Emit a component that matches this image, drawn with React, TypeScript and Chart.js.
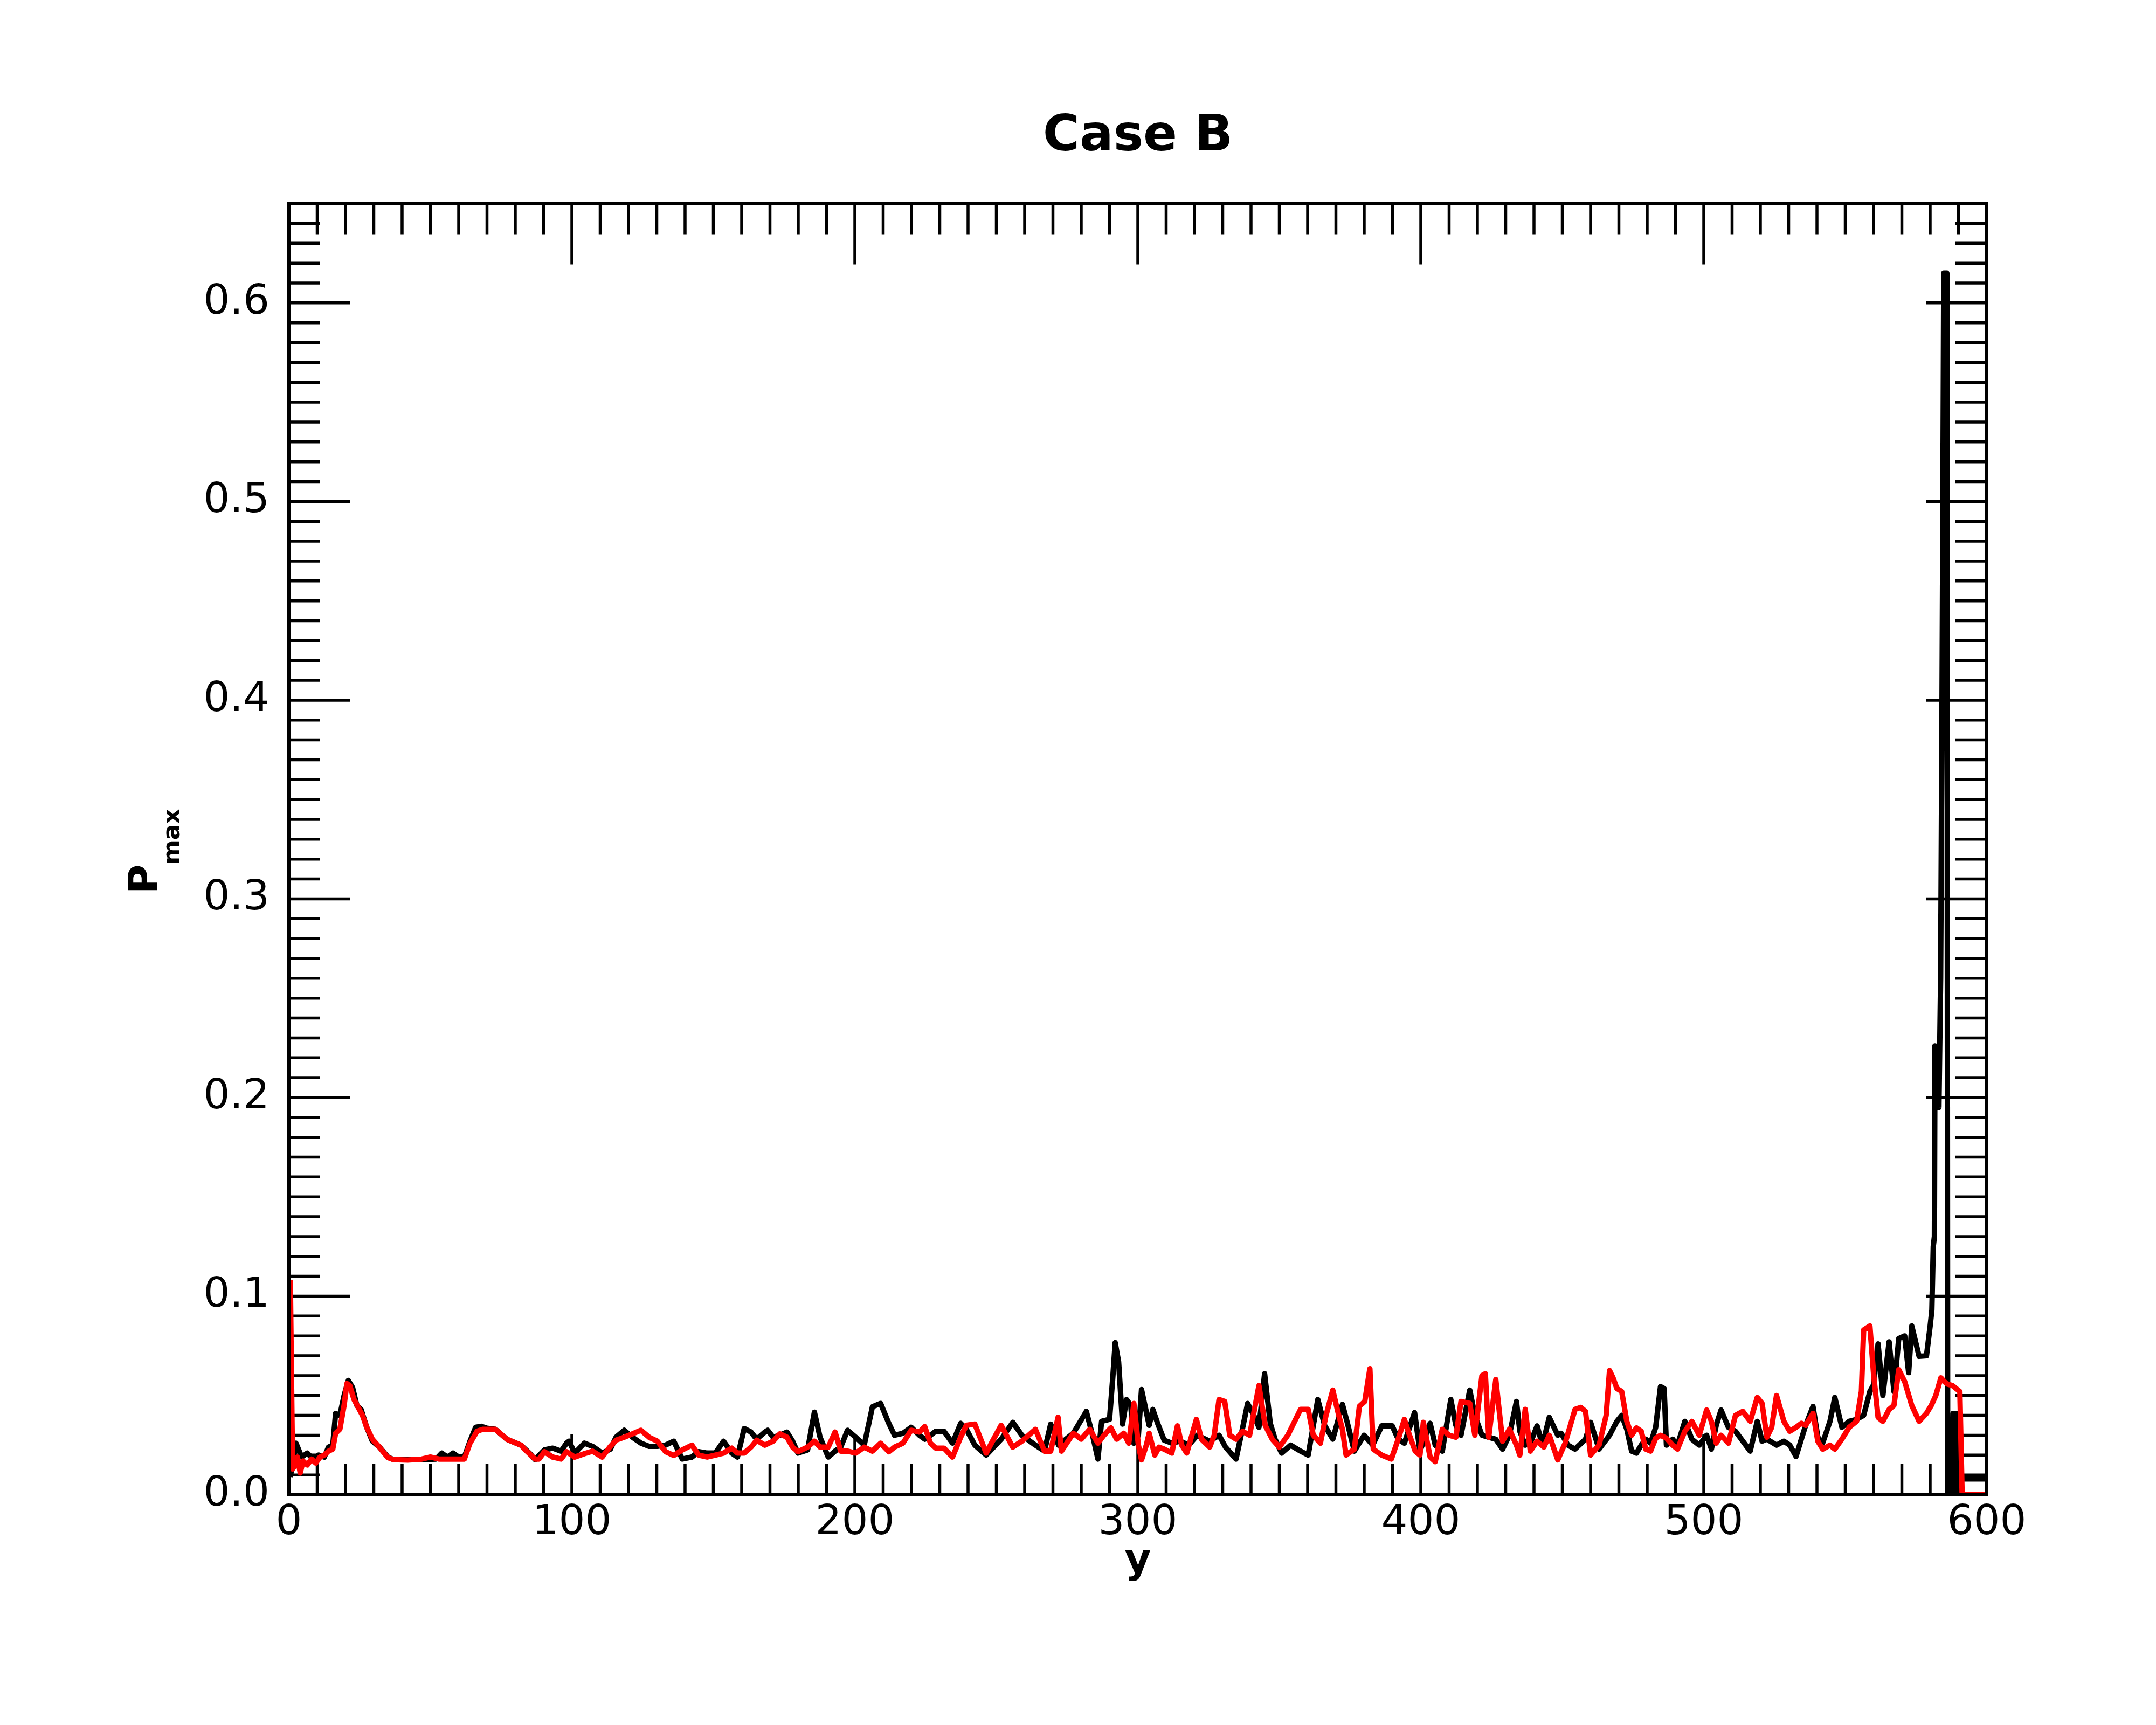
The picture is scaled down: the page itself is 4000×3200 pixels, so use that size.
import React, { useEffect, useRef } from 'react';
import { Chart, registerables } from 'chart.js';

Chart.register(...registerables);

// ---------- data ----------
const TITLE = 'Case B';
const X_LABEL = 'y';
const Y_LABEL_MAIN = 'P';
const Y_LABEL_SUB = 'max';

const X_MIN = 0;
const X_MAX = 600;
const X_MAJOR = 100;
const X_MINOR = 10;
const Y_MIN = 0;
const Y_MAX = 0.65;
const Y_MAJOR = 0.1;
const Y_MINOR = 0.01;

// black curve: [y position, Pmax]
const blackSeries: [number, number][] = [
  [0.5, 0.009], [2.5, 0.026], [4.5, 0.019], [6.5, 0.021], [8.5, 0.018], [10.5, 0.02], [12.5, 0.019],
  [14, 0.024], [15.5, 0.025], [16.5, 0.041], [18, 0.04], [19.5, 0.05], [21, 0.0576], [22.5, 0.054],
  [24, 0.045], [25.5, 0.043], [27.5, 0.034], [29.5, 0.027], [32, 0.024], [35, 0.019], [37, 0.0177],
  [42, 0.0177], [47, 0.0177], [52, 0.018], [54, 0.021], [56, 0.019], [58, 0.021], [60, 0.019],
  [62, 0.019], [64, 0.027], [66, 0.034], [68, 0.0345], [70, 0.0335], [73, 0.033], [77, 0.028],
  [82, 0.025], [85, 0.021], [87, 0.0177], [88.4, 0.0198], [90.3, 0.0226], [93.2, 0.0235], [96.2, 0.022],
  [98.1, 0.026], [99, 0.027], [101, 0.021], [104.4, 0.026], [107.3, 0.0244], [110.7, 0.021],
  [113.6, 0.023], [115.6, 0.029], [118.5, 0.0325], [121.4, 0.029], [124.4, 0.026], [127.3, 0.0244],
  [130.2, 0.0244], [133.1, 0.025], [136, 0.027], [139, 0.018], [142.4, 0.019], [144.8, 0.0217],
  [147.8, 0.021], [150.7, 0.021], [153.6, 0.027], [156.5, 0.021], [158.5, 0.019], [160.9, 0.0334],
  [163.3, 0.0316], [165.3, 0.028], [168.2, 0.0316], [169.2, 0.0325], [171.1, 0.029], [173.5, 0.03],
  [176, 0.0316], [178, 0.027], [179.9, 0.021], [183.3, 0.0226], [185.7, 0.0416], [187.7, 0.029],
  [190.6, 0.019], [193, 0.022], [195, 0.024], [197.4, 0.0325], [200.3, 0.029], [203.3, 0.025],
  [206.2, 0.0443], [209.1, 0.046], [212, 0.036], [214, 0.03], [217, 0.031], [219.9, 0.034],
  [222.8, 0.03], [224.7, 0.028], [226.7, 0.03], [228.6, 0.032], [231.5, 0.032], [234.5, 0.026],
  [237.4, 0.036], [239.4, 0.033], [242.4, 0.025], [246.4, 0.02], [251.7, 0.028], [255.8, 0.0365],
  [259, 0.03], [263.8, 0.025], [267, 0.022], [269.2, 0.0356], [272, 0.025], [277.2, 0.031],
  [281.8, 0.042], [284, 0.03], [285.9, 0.018], [287.2, 0.037], [290, 0.038], [291.2, 0.06],
  [292, 0.0766], [293.2, 0.067], [294.6, 0.0356], [296, 0.048], [297.5, 0.045], [298.6, 0.026],
  [300.2, 0.03], [301.3, 0.053], [302.5, 0.045], [304, 0.035], [305.3, 0.043], [307, 0.036],
  [309.3, 0.0275], [312, 0.026], [315, 0.027], [318, 0.025], [321, 0.03], [325.4, 0.027],
  [328.7, 0.03], [331, 0.024], [334.7, 0.018], [336.5, 0.03], [338.8, 0.046], [341, 0.04],
  [342.8, 0.034], [344.8, 0.061], [346.8, 0.036], [348.5, 0.028], [350.8, 0.021], [354, 0.025],
  [357.5, 0.022], [360.2, 0.02], [363.6, 0.048], [366, 0.035], [368.9, 0.028], [372.3, 0.0455],
  [374, 0.0365], [376.5, 0.022], [380, 0.03], [383, 0.025], [386.2, 0.0347], [389.9, 0.0347],
  [392, 0.028], [394.2, 0.026], [397.8, 0.0414], [399.7, 0.022], [403.3, 0.036], [405.1, 0.025],
  [407.6, 0.022], [410.6, 0.048], [412.4, 0.035], [414.2, 0.03], [417.3, 0.0527], [419.1, 0.04],
  [421.6, 0.03], [424, 0.029], [426.5, 0.028], [428.9, 0.023], [431.3, 0.03], [433.8, 0.047],
  [435, 0.032], [436.9, 0.025], [438.7, 0.026], [441.1, 0.0347], [443, 0.025], [445.4, 0.039],
  [448.4, 0.03], [449.6, 0.031], [452, 0.025], [454.5, 0.023], [458.2, 0.028], [460, 0.0365],
  [463, 0.023], [466.7, 0.03], [469.3, 0.037], [471, 0.04], [472.8, 0.033], [474.5, 0.022],
  [476.2, 0.021], [477.9, 0.025], [479.5, 0.028], [481.2, 0.026], [483, 0.034], [484.7, 0.0545],
  [486, 0.0535], [486.8, 0.025], [489, 0.028], [490.7, 0.025], [493.3, 0.037], [495.8, 0.028],
  [498.4, 0.025], [501, 0.03], [502.7, 0.023], [504.4, 0.035], [506.1, 0.0427], [508.7, 0.034],
  [511.2, 0.032], [513.8, 0.027], [516.4, 0.022], [518.9, 0.037], [520.6, 0.027], [522.3, 0.028],
  [525.7, 0.025], [528.3, 0.027], [530.4, 0.025], [532.6, 0.0193], [536, 0.035], [538.6, 0.0445],
  [540.3, 0.029], [542, 0.026], [544.6, 0.037], [546.3, 0.049], [548.8, 0.034], [551.4, 0.037],
  [554, 0.038], [556.5, 0.04], [558.7, 0.052], [560, 0.0554], [561.6, 0.076], [563.3, 0.05],
  [565.5, 0.077], [567.2, 0.052], [568.9, 0.0787], [571, 0.08], [572.4, 0.0615], [573.5, 0.085],
  [576.1, 0.0697], [578.7, 0.07], [580, 0.085], [580.6, 0.093], [581.1, 0.125], [581.5, 0.13],
  [581.7, 0.226], [582.3, 0.195], [582.7, 0.226], [583.1, 0.195], [583.7, 0.26], [584.2, 0.4],
  [584.5, 0.5], [584.8, 0.615], [585.9, 0.615], [586.2, 0.0], [587.8, 0.0], [588.1, 0.041],
  [589.3, 0.041], [589.6, 0.0], [590.2, 0.008], [600, 0.008],
];

// red curve: [y position, Pmax]
const redSeries: [number, number][] = [
  [0.5, 0.108], [1.3, 0.013], [2, 0.0145], [3, 0.019], [4, 0.011], [5, 0.017], [6.5, 0.015],
  [8, 0.018], [9.5, 0.016], [11, 0.019], [12.5, 0.02], [14, 0.022], [15.5, 0.023], [16.5, 0.031],
  [18, 0.033], [19.5, 0.045], [20.5, 0.056], [21.5, 0.055], [23, 0.048], [24.5, 0.044], [26, 0.04],
  [27.5, 0.034], [29.5, 0.028], [32, 0.024], [35, 0.0187], [37, 0.0177], [42, 0.0175], [47, 0.018],
  [50, 0.019], [53, 0.018], [56, 0.018], [60, 0.018], [62, 0.018], [64, 0.026], [66.5, 0.032],
  [68.5, 0.033], [71, 0.033], [73, 0.033], [77, 0.028], [82, 0.025], [84, 0.022], [87, 0.018],
  [88.4, 0.018], [90.3, 0.0217], [93.2, 0.019], [96.2, 0.018], [98.1, 0.0217], [101, 0.019],
  [104.4, 0.0207], [107.3, 0.022], [110.7, 0.019], [113.6, 0.0244], [115.6, 0.0275], [118.5, 0.029],
  [121.4, 0.0307], [124.4, 0.0325], [127.3, 0.029], [130.2, 0.027], [133.1, 0.0217], [136, 0.0198],
  [139, 0.0226], [142.4, 0.025], [144.8, 0.02], [147.8, 0.019], [150.7, 0.02], [153.6, 0.021],
  [156.5, 0.0235], [158.5, 0.021], [160.9, 0.021], [163.3, 0.024], [165.3, 0.0275], [168.2, 0.025],
  [171.1, 0.027], [173.5, 0.0307], [176, 0.029], [178, 0.024], [179.9, 0.0217], [183.3, 0.024],
  [185.7, 0.027], [187.7, 0.024], [190.6, 0.024], [193, 0.0316], [195, 0.022], [197.4, 0.022],
  [200.3, 0.021], [203.3, 0.024], [206.2, 0.022], [209.1, 0.026], [212, 0.0217], [214, 0.024],
  [217, 0.026], [219.9, 0.0325], [222.8, 0.0316], [224.7, 0.0343], [226.7, 0.026], [228.6, 0.0235],
  [231.5, 0.0235], [234.5, 0.019], [237.4, 0.029], [239.4, 0.035], [242.4, 0.0356], [246.4, 0.021],
  [249, 0.028], [251.7, 0.035], [255.8, 0.024], [259, 0.027], [263.8, 0.033], [267, 0.022],
  [269.2, 0.022], [271.8, 0.039], [273, 0.022], [277.2, 0.031], [280, 0.028], [283, 0.033],
  [285.9, 0.026], [288, 0.03], [290.5, 0.0337], [292.5, 0.028], [295, 0.031], [296.8, 0.026],
  [298.6, 0.046], [300.2, 0.025], [301.3, 0.0176], [303, 0.025], [304, 0.031], [306, 0.02],
  [307.5, 0.024], [309.3, 0.023], [312, 0.021], [314, 0.0347], [315.5, 0.025], [317.3, 0.021],
  [320.7, 0.038], [322.5, 0.028], [325.4, 0.024], [327, 0.03], [328.7, 0.048], [330.7, 0.047],
  [332.5, 0.03], [334.7, 0.028], [337, 0.032], [339.5, 0.03], [342.8, 0.055], [345, 0.035],
  [347.5, 0.028], [350, 0.024], [353, 0.03], [357.5, 0.043], [360.2, 0.043], [362, 0.03],
  [364.5, 0.026], [366.5, 0.04], [368.9, 0.0527], [371, 0.04], [372.3, 0.033], [373.6, 0.02],
  [376.5, 0.023], [378.3, 0.0446], [380.2, 0.047], [382, 0.0635], [383.2, 0.023], [386.2, 0.02],
  [389.6, 0.018], [392, 0.028], [394.2, 0.038], [396, 0.03], [398, 0.022], [399.7, 0.02],
  [400.9, 0.0365], [403.3, 0.019], [405.1, 0.0167], [407.6, 0.033], [410, 0.03], [412.4, 0.029],
  [414.2, 0.047], [417.3, 0.046], [419.1, 0.03], [421.6, 0.06], [422.8, 0.061], [424, 0.029],
  [426.5, 0.058], [428.9, 0.027], [431.3, 0.033], [433.8, 0.025], [435, 0.02], [436.9, 0.043],
  [438.7, 0.022], [441.1, 0.027], [443.5, 0.024], [445.4, 0.03], [448.4, 0.0176], [451, 0.026],
  [454.5, 0.043], [456.5, 0.044], [458.2, 0.042], [460, 0.02], [463, 0.025], [465.5, 0.04],
  [466.7, 0.0626], [467.9, 0.059], [469.3, 0.0535], [471, 0.052], [472.8, 0.037], [474.5, 0.03],
  [476.2, 0.0337], [477.9, 0.032], [479.5, 0.023], [481.2, 0.022], [483, 0.0285], [484.7, 0.03],
  [486.8, 0.0285], [489, 0.025], [490.7, 0.023], [493.3, 0.032], [495.8, 0.037], [498.4, 0.03],
  [501, 0.0427], [502.7, 0.037], [504.4, 0.026], [506.1, 0.03], [508.7, 0.026], [511.2, 0.04],
  [513.8, 0.042], [516.4, 0.037], [518.9, 0.049], [520.6, 0.046], [522.3, 0.029], [524, 0.034],
  [525.7, 0.05], [528.3, 0.037], [530.4, 0.032], [532.6, 0.034], [534.5, 0.036], [536, 0.035],
  [538.6, 0.041], [540.3, 0.027], [542, 0.023], [544.6, 0.025], [546.3, 0.023], [548.8, 0.028],
  [551.4, 0.034], [554, 0.037], [555.7, 0.052], [556.5, 0.083], [558.7, 0.085], [560, 0.061],
  [561.6, 0.039], [563.3, 0.037], [565.5, 0.043], [567.2, 0.045], [568.9, 0.063], [571, 0.057],
  [573.5, 0.045], [576.1, 0.037], [578.7, 0.041], [580.4, 0.045], [582, 0.05], [583.8, 0.0589],
  [585, 0.057], [586.2, 0.0557], [587.9, 0.055], [590.5, 0.052], [591.3, 0.0], [600, 0.0],
];

const BLACK = '#000000';
const RED = '#ff0000';

// ---------- layout constants ----------
const W = 4000;
const H = 3200;
const FONT = "'DejaVu Sans', sans-serif";

const framePlugin = {
  id: 'frameTicks',
  beforeDatasetsDraw(chart: any) {
    const { ctx, chartArea: a, scales } = chart;
    const xs = scales.x;
    const ys = scales.y;
    const majorLen = 113;
    const minorLen = 58;
    ctx.save();
    ctx.strokeStyle = BLACK;
    ctx.lineWidth = 5.5;
    ctx.lineCap = 'butt';
    ctx.beginPath();
    const nx = Math.round((X_MAX - X_MIN) / X_MINOR);
    const perX = Math.round(X_MAJOR / X_MINOR);
    for (let i = 1; i < nx; i++) {
      const px = xs.getPixelForValue(X_MIN + i * X_MINOR);
      const len = i % perX === 0 ? majorLen : minorLen;
      ctx.moveTo(px, a.bottom);
      ctx.lineTo(px, a.bottom - len);
      ctx.moveTo(px, a.top);
      ctx.lineTo(px, a.top + len);
    }
    const ny = Math.floor((Y_MAX - Y_MIN) / Y_MINOR + 1e-6);
    const perY = Math.round(Y_MAJOR / Y_MINOR);
    for (let j = 1; j <= ny; j++) {
      const v = Y_MIN + j * Y_MINOR;
      if (v >= Y_MAX - 1e-9) continue;
      const py = ys.getPixelForValue(v);
      const len = j % perY === 0 ? majorLen : minorLen;
      ctx.moveTo(a.left, py);
      ctx.lineTo(a.left + len, py);
      ctx.moveTo(a.right, py);
      ctx.lineTo(a.right - len, py);
    }
    ctx.stroke();
    ctx.restore();
  },
  afterDatasetsDraw(chart: any) {
    const { ctx, chartArea: a } = chart;
    ctx.save();
    ctx.strokeStyle = BLACK;
    ctx.lineWidth = 6;
    ctx.strokeRect(a.left, a.top, a.right - a.left, a.bottom - a.top);
    ctx.restore();
  },
  afterDraw(chart: any) {
    const { ctx, chartArea: a } = chart;
    ctx.save();
    ctx.fillStyle = BLACK;
    // x axis title
    ctx.font = `bold 75px ${FONT}`;
    ctx.textAlign = 'center';
    ctx.textBaseline = 'alphabetic';
    ctx.fillText(X_LABEL, (a.left + a.right) / 2, 2917);
    // y axis title with subscript, rotated
    ctx.translate(292, 1658);
    ctx.rotate(-Math.PI / 2);
    ctx.textAlign = 'left';
    ctx.font = `bold 74px ${FONT}`;
    ctx.fillText(Y_LABEL_MAIN, 0, 0);
    ctx.font = `bold 44px ${FONT}`;
    ctx.fillText(Y_LABEL_SUB, 54, 41);
    ctx.restore();
  },
};

export default function App() {
  const canvasRef = useRef<HTMLCanvasElement | null>(null);

  useEffect(() => {
    document.body.style.margin = '0';
    const canvas = canvasRef.current;
    if (!canvas) return;
    const chart = new Chart(canvas, {
      type: 'line',
      data: {
        datasets: [
          {
            label: 'red',
            data: redSeries.map(([x, y]) => ({ x, y })),
            borderColor: RED,
            backgroundColor: RED,
            borderWidth: 10,
            pointRadius: 0,
            tension: 0,
            fill: false,
            borderJoinStyle: 'round',
          },
          {
            label: 'black',
            data: blackSeries.map(([x, y]) => ({ x, y })),
            borderColor: BLACK,
            backgroundColor: BLACK,
            borderWidth: 10,
            pointRadius: 0,
            tension: 0,
            fill: false,
            borderJoinStyle: 'round',
          },
        ],
      },
      options: {
        animation: false,
        responsive: false,
        devicePixelRatio: 1,
        layout: { padding: { left: 0, right: 314, top: 0, bottom: 0 } },
        plugins: {
          legend: { display: false },
          tooltip: { enabled: false },
          title: {
            display: true,
            fullSize: false,
            text: TITLE,
            color: BLACK,
            font: { family: FONT, size: 93, weight: 'bold' },
            padding: { top: 199, bottom: 67 },
          },
        },
        scales: {
          x: {
            type: 'linear',
            min: X_MIN,
            max: X_MAX,
            grid: { display: false, drawTicks: false },
            border: { display: false },
            ticks: {
              stepSize: X_MAJOR,
              color: BLACK,
              font: { family: FONT, size: 77 },
              padding: 7,
              maxRotation: 0,
              autoSkip: false,
              callback: (v: any) => String(v),
            },
            afterFit: (s: any) => {
              s.height = 427;
            },
          },
          y: {
            type: 'linear',
            min: Y_MIN,
            max: Y_MAX,
            grid: { display: false, drawTicks: false },
            border: { display: false },
            ticks: {
              stepSize: Y_MAJOR,
              includeBounds: false,
              color: BLACK,
              font: { family: FONT, size: 77 },
              padding: 36,
              autoSkip: false,
              callback: (v: any) => Number(v).toFixed(1),
            },
            afterFit: (s: any) => {
              s.width = 536;
            },
          },
        },
      },
      plugins: [framePlugin],
    } as any);
    return () => chart.destroy();
  }, []);

  return (
    <div style={{ width: W, height: H, background: '#fff' }}>
      <canvas ref={canvasRef} width={W} height={H} style={{ display: 'block', width: W, height: H }} />
    </div>
  );
}
